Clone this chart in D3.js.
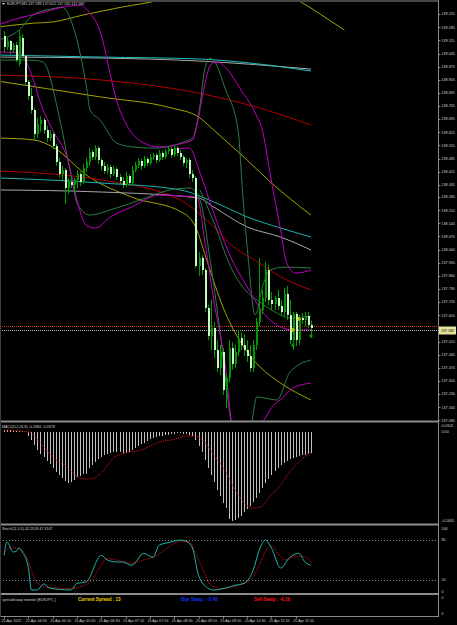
<!DOCTYPE html>
<html>
<head>
<meta charset="utf-8">
<script src="https://cdn.jsdelivr.net/npm/d3@7"></script>
<style>
  body { margin: 0; background: #000; }
  svg { display: block; }
  text { font-family: "Liberation Sans", Arial, sans-serif; }
</style>
</head>
<body>
<svg id="chart" width="457" height="625"></svg>
<script>
"use strict";

// ---- chart data (EURJPY M5) ----
const symbolTitle = "EURJPY,M5  137.599 137.622 137.530 137.582";
const barOpen = [139.138,139.080,139.112,139.064,139.090,138.989,139.128,139.032,138.893,138.819,
  138.744,138.616,138.669,138.691,138.637,138.595,138.616,138.552,138.467,138.403,
  138.424,138.328,138.360,138.344,138.371,138.403,138.360,138.435,138.467,138.520,
  138.493,138.541,138.477,138.446,138.419,138.440,138.403,138.430,138.387,138.366,
  138.344,138.392,138.355,138.424,138.451,138.472,138.446,138.483,138.461,138.493,
  138.504,138.477,138.515,138.493,138.525,138.536,138.504,138.541,138.515,138.493,
  138.461,138.477,138.403,138.382,137.913,137.955,137.891,137.689,137.540,137.582,
  137.465,137.369,137.454,137.252,137.316,137.476,137.391,137.454,137.529,137.492,
  137.465,137.433,137.369,137.492,137.614,137.678,137.742,137.891,137.732,137.710,
  137.742,137.700,137.668,137.764,137.652,137.518,137.657,137.518,137.636,137.625,
  137.646,137.599];
const barHigh = [139.165,139.128,139.117,139.101,139.106,139.170,139.149,139.042,138.904,138.861,
  138.755,138.701,138.712,138.701,138.659,138.637,138.627,138.563,138.488,138.446,
  138.435,138.382,138.392,138.382,138.424,138.414,138.456,138.488,138.541,138.531,
  138.557,138.552,138.488,138.467,138.456,138.451,138.446,138.440,138.403,138.387,
  138.414,138.403,138.446,138.467,138.488,138.483,138.499,138.493,138.509,138.515,
  138.515,138.531,138.525,138.536,138.552,138.547,138.557,138.552,138.531,138.504,
  138.488,138.488,138.424,138.392,137.987,137.971,137.902,137.705,137.732,137.614,
  137.518,137.492,137.476,137.332,137.518,137.508,137.492,137.572,137.561,137.550,
  137.518,137.492,137.518,137.636,137.955,137.785,137.934,137.918,137.774,137.753,
  137.785,137.732,137.796,137.806,137.732,137.668,137.668,137.652,137.662,137.668,
  137.668,137.622];
const barLow = [139.053,139.064,139.042,139.048,139.000,138.978,139.021,138.877,138.797,138.723,
  138.584,138.595,138.627,138.616,138.573,138.579,138.536,138.446,138.382,138.371,
  138.243,138.296,138.328,138.307,138.328,138.339,138.350,138.414,138.446,138.477,
  138.477,138.456,138.424,138.403,138.403,138.382,138.392,138.371,138.350,138.328,
  138.334,138.339,138.344,138.414,138.435,138.424,138.435,138.446,138.451,138.477,
  138.461,138.467,138.477,138.483,138.509,138.488,138.493,138.499,138.477,138.446,
  138.435,138.382,138.360,137.902,137.860,137.865,137.668,137.518,137.465,137.423,
  137.348,137.332,137.225,137.156,137.295,137.359,137.369,137.433,137.465,137.433,
  137.401,137.348,137.348,137.465,137.593,137.657,137.721,137.705,137.678,137.678,
  137.678,137.646,137.646,137.625,137.497,137.465,137.486,137.492,137.604,137.593,
  137.582,137.530];
const barClose = [139.080,139.112,139.064,139.090,139.010,139.138,139.032,138.893,138.819,138.744,
  138.616,138.669,138.691,138.637,138.595,138.616,138.552,138.467,138.403,138.424,
  138.328,138.360,138.344,138.371,138.403,138.360,138.435,138.467,138.520,138.493,
  138.541,138.477,138.446,138.419,138.440,138.403,138.430,138.387,138.366,138.344,
  138.392,138.355,138.424,138.451,138.472,138.446,138.483,138.461,138.493,138.504,
  138.477,138.515,138.493,138.525,138.536,138.504,138.541,138.515,138.493,138.461,
  138.477,138.403,138.382,137.913,137.955,137.891,137.689,137.540,137.582,137.465,
  137.369,137.454,137.252,137.316,137.476,137.391,137.454,137.529,137.492,137.465,
  137.433,137.369,137.492,137.614,137.678,137.742,137.891,137.732,137.710,137.742,
  137.700,137.668,137.764,137.652,137.518,137.657,137.518,137.636,137.625,137.646,
  137.598,137.582];
const askPrice = 137.595;
const bidPrice = 137.582;

// indicator lines on the price chart: [bar, price]
const cyanUpper = [[-2,139.037],[32,139.026],[64,139.016],[81,138.994],[101,138.952]];
const grayUpper = [[-2,139.026],[32,139.021],[64,139.005],[101,138.962]];
const redUpper = [[-2,138.930],[32,138.904],[64,138.834],[84,138.755],[101,138.664]];
const oliveUpper = [[-2,139.186],[10,139.207],[16,139.213],[26,139.250],[39,139.293],[51,139.330],[56,139.357]];
const oliveRight = [[95,139.345],[101,139.287],[107,139.223],[112,139.170]];
const oliveMiddle = [[-2,138.898],[32,138.813],[55,138.755],[64,138.707],[69,138.637],[80,138.477],[88,138.355],[101,138.184]];
const oliveLower = [[-2,138.595],[10,138.584],[16,138.547],[28,138.387],[42,138.280],[59,138.195],[63,138.121],[67,137.929],[72,137.695],[78,137.503],[83,137.396],[91,137.289],[101,137.199]];
const grayLower = [[-2,138.318],[32,138.307],[64,138.275],[69,138.227],[80,138.121],[91,138.067],[101,137.998]];
const cyanLower = [[-2,138.382],[32,138.355],[58,138.318],[69,138.254],[80,138.174],[91,138.115],[101,138.067]];
const redLower = [[-2,138.419],[32,138.371],[58,138.264],[69,138.121],[74,138.036],[84,137.929],[91,137.855],[101,137.785]];
const magentaUpper = [[-2,139.197],[5,139.234],[12,139.261],[18,139.287],[25,139.303],[28,139.266],[32,139.144],[35,138.930],
  [37,138.797],[40,138.675],[46,138.568],[51,138.547],[59,138.568],[62,138.584],[63.5,138.664],[66,138.877],[68,138.984],
  [70,139.000],[73,138.968],[78,138.850],[83,138.717],[85,138.637],[87.5,138.408],[91,138.105],[93,137.929],[96,137.875],[101,137.891]];
const magentaLower = [[-2,139.053],[5,139.048],[10,138.888],[12,138.781],[16,138.637],[21,138.477],[24,138.264],[27,138.131],
  [30,138.115],[35,138.174],[42,138.227],[51,138.291],[58,138.286],[63.5,138.280],[66,138.051],[69,137.732],[73,137.359],
  [75,137.066],[78,136.959],[83,137.039],[86,137.103],[87.5,137.145],[92,137.215],[95,137.263],[101,137.289]];
const magentaMid = [[55,138.531],[61,138.541],[64.5,138.408],[69,138.195],[74,137.982],[80,137.801],[86.5,137.641],[91,137.588],[95,137.572],[101,137.572]];
const greenUpper = [[-2,139.117],[5,139.170],[9.5,139.250],[17,139.287],[19,139.293],[22,139.223],[25,139.048],[27.3,138.850],
  [28.3,138.744],[31.6,138.691],[37,138.568],[42.4,138.547],[49,138.541],[53.6,138.547],[59,138.573],[62,138.595],[64.5,138.771],
  [66,138.957],[67.8,139.021],[69.4,139.000],[72.7,138.861],[77,138.637],[78.6,138.280],[80.3,137.961],[82.6,137.652],
  [85.2,137.812],[87.5,137.891],[92.4,137.907],[101,137.902]];
const greenLower = [[-2,139.010],[8.6,139.010],[12.8,139.000],[18.4,138.691],[21.7,138.424],[24.3,138.238],[28.3,138.184],
  [34.9,138.211],[44.7,138.264],[54.6,138.318],[61.2,138.328],[64.5,138.264],[67.8,137.945],[71,137.572],[73.7,137.199],
  [76,136.986],[80.9,137.039],[83.2,137.215],[89.8,137.199],[94.1,137.348],[101,137.412]];
const greenMid = [[64.5,138.318],[69.4,138.131],[74.3,137.918],[79.3,137.785],[84.2,137.721],[89.1,137.668],[94.1,137.636],[101,137.646]];
const markerCross = [[95,137.572],[97,137.630]];
const markerArrow = [[95,137.490],[101,137.540]];

const priceTicks = [139.255,139.185,139.115,139.045,138.975,138.905,138.835,138.765,138.695,138.625,
  138.555,138.485,138.415,138.345,138.280,138.210,138.140,138.070,138.000,137.930,
  137.860,137.790,137.720,137.650,137.510,137.440,137.370,137.300,137.230,137.160,137.090];

// MACD(12,26,9): histogram per bar and signal line
const macdTitle = "MACD(12,26,9) -0.0394 -0.0378";
const macdHist = [0.0037,0.0037,0.0037,0.0019,0.0019,0.0019,0.0019,0.0000,-0.0075,-0.0150,
  -0.0243,-0.0337,-0.0412,-0.0468,-0.0543,-0.0599,-0.0674,-0.0748,-0.0805,-0.0861,
  -0.0917,-0.0954,-0.0936,-0.0898,-0.0842,-0.0823,-0.0786,-0.0786,-0.0674,-0.0617,
  -0.0561,-0.0505,-0.0468,-0.0430,-0.0412,-0.0393,-0.0374,-0.0374,-0.0374,-0.0393,
  -0.0393,-0.0374,-0.0337,-0.0299,-0.0262,-0.0225,-0.0206,-0.0168,-0.0131,-0.0112,
  -0.0094,-0.0075,-0.0075,-0.0056,-0.0056,-0.0037,-0.0037,-0.0019,-0.0019,-0.0037,
  -0.0037,-0.0056,-0.0075,-0.0150,-0.0262,-0.0374,-0.0524,-0.0674,-0.0805,-0.0936,
  -0.1085,-0.1197,-0.1328,-0.1422,-0.1628,-0.1665,-0.1646,-0.1609,-0.1572,-0.1497,
  -0.1441,-0.1385,-0.1310,-0.1235,-0.1141,-0.1048,-0.0954,-0.0879,-0.0805,-0.0730,
  -0.0674,-0.0617,-0.0580,-0.0543,-0.0505,-0.0486,-0.0468,-0.0449,-0.0430,-0.0430,
  -0.0412,-0.0394];
const macdSignal = [[0,0.0037],[8,0.0000],[12,-0.0206],[16,-0.0468],[21,-0.0674],[25,-0.0861],[28,-0.0879],
  [32,-0.0767],[36,-0.0486],[40,-0.0393],[45,-0.0337],[49,-0.0243],[51,-0.0187],[55,-0.0150],[60,-0.0075],
  [63,-0.0075],[66,-0.0187],[69,-0.0430],[73,-0.0748],[76,-0.1085],[79,-0.1328],[82,-0.1422],[85,-0.1385],
  [87,-0.1235],[91,-0.0992],[94,-0.0748],[97,-0.0561],[101,-0.0378]];
const macdTicks = [["0.0324", 0.0118], ["0.00", 0], ["-0.1665", -0.1665]];

// Stochastic(11,3,3)
const stochTitle = "Stoch(11,3,3) 42.2518 47.3147";
const stochMain = [[0,57],[1,77],[3,62],[4,63],[5,68],[6,62],[8,39],[9,5],[11,5],[13,14],[15,8],[18,6],[22,5],
  [24,15],[27,17],[32,57],[34,50],[37,47],[39,47],[42,42],[46,60],[49,54],[51,72],[55,77],[58,80],[60,78],
  [62,68],[64,27],[67,8],[69,5],[73,8],[76,12],[79,15],[82,35],[84,65],[86,80],[88,68],[91,38],[94,54],
  [97,60],[99,47],[101,42.25]];
const stochSignal = [[0,60],[2,68],[5,67],[7,58],[9,35],[11,15],[14,9],[18,8],[22,7],[25,10],[28,16],[31,35],
  [34,52],[38,49],[42,45],[46,50],[49,54],[52,62],[55,72],[58,78],[61,77],[63,60],[66,30],[68,12],[72,7],
  [77,12],[81,20],[84,42],[86,63],[88,72],[90,60],[93,50],[96,56],[99,55],[101,47.31]];
const stochLevels = [80, 20];
const stochTicks = [100, 80, 20, 0];

// spread / swap monitor
const monitorTitle = "spread/swap monitor [EURJPY,,]";
const spreadText = "Current Spread :  13";
const buySwapText = "Buy Swap :  -3.40";
const sellSwapText = "Sell Swap :  -6.10";

// time axis
const timeLabels = ["25 Apr 2022","25 Apr 04:30","25 Apr 05:10","25 Apr 05:50","25 Apr 06:30","25 Apr 07:10",
  "25 Apr 07:50","25 Apr 08:30","25 Apr 09:10","25 Apr 09:50","25 Apr 10:30","25 Apr 11:10","25 Apr 11:50"];
const timeBars = [0,8,16,24,32,40,48,56,64,72,80,88,96];

// ---- layout ----
const W = 457, H = 625;
const axisX = 438.5;
const fontSize = 3.7;
const frameColor = "#8c8c8c";
const textColor = "#d0d0d0";

const svg = d3.select("#chart");
svg.append("rect").attr("width", W).attr("height", H).attr("fill", "#000");

const x = d3.scaleLinear().domain([0, 101]).range([4, 311]);
const y = d3.scaleLinear().domain([137.090, 139.255]).range([420.4, 14.1]);
const yMacd = d3.scaleLinear().domain([-0.1665, 0]).range([521, 432]);
const yStoch = d3.scaleLinear().domain([0, 100]).range([593.3, 526.7]);

const defs = svg.append("defs");
defs.append("clipPath").attr("id", "clipMain")
  .append("rect").attr("x", 0).attr("y", 2).attr("width", axisX).attr("height", 419);
defs.append("clipPath").attr("id", "clipMacd")
  .append("rect").attr("x", 0).attr("y", 423).attr("width", axisX).attr("height", 100);
defs.append("clipPath").attr("id", "clipStoch")
  .append("rect").attr("x", 0).attr("y", 526).attr("width", axisX).attr("height", 66);

// ---- main price panel ----
const main = svg.append("g").attr("clip-path", "url(#clipMain)");

const priceLine = d3.line()
  .x(d => x(d[0])).y(d => y(d[1]))
  .curve(d3.curveMonotoneX);

const overlays = [
  { pts: oliveUpper, color: "#a3a300" },
  { pts: oliveRight, color: "#a3a300" },
  { pts: redUpper, color: "#b00000" },
  { pts: grayUpper, color: "#a8a8a8" },
  { pts: cyanUpper, color: "#20c0c0" },
  { pts: oliveMiddle, color: "#a3a300" },
  { pts: oliveLower, color: "#a3a300" },
  { pts: redLower, color: "#b00000" },
  { pts: grayLower, color: "#a8a8a8" },
  { pts: cyanLower, color: "#20b0b0" },
  { pts: greenUpper, color: "#2e7a44" },
  { pts: greenLower, color: "#2e7a44" },
  { pts: greenMid, color: "#2e7a44" },
  { pts: magentaUpper, color: "#c000c0" },
  { pts: magentaLower, color: "#c000c0" },
  { pts: magentaMid, color: "#c000c0" }
];

main.selectAll("path.overlay")
  .data(overlays)
  .join("path")
  .attr("class", "overlay")
  .attr("d", d => priceLine(d.pts))
  .attr("fill", "none")
  .attr("stroke", d => d.color)
  .attr("stroke-width", 1);

// ask / bid lines
main.append("line")
  .attr("x1", 0).attr("x2", axisX)
  .attr("y1", Math.round(y(askPrice)) + 0.5).attr("y2", Math.round(y(askPrice)) + 0.5)
  .attr("stroke", "#e03020").attr("stroke-dasharray", "1,1");
main.append("line")
  .attr("x1", 0).attr("x2", axisX)
  .attr("y1", Math.round(y(bidPrice)) + 2.5).attr("y2", Math.round(y(bidPrice)) + 2.5)
  .attr("stroke", "#b0b0b0").attr("stroke-dasharray", "1,1");

// candles
const bars = barOpen.map((o, i) => ({ i, o, h: barHigh[i], l: barLow[i], c: barClose[i] }));
const candle = main.selectAll("g.candle").data(bars).join("g").attr("class", "candle");
candle.append("line")
  .attr("x1", d => Math.round(x(d.i)) + 0.5)
  .attr("x2", d => Math.round(x(d.i)) + 0.5)
  .attr("y1", d => y(d.h))
  .attr("y2", d => y(d.l))
  .attr("stroke", "#00a000")
  .attr("stroke-width", 1);
candle.append("rect")
  .attr("x", d => Math.round(x(d.i)) - 0.5)
  .attr("width", 2)
  .attr("y", d => y(Math.max(d.o, d.c)))
  .attr("height", d => Math.max(1, Math.abs(y(d.o) - y(d.c))))
  .attr("fill", d => d.c >= d.o ? "#009a00" : "#c8f8c8")
  .attr("shape-rendering", "crispEdges");

// trade markers
main.selectAll("path.cross").data(markerCross).join("path")
  .attr("class", "cross")
  .attr("d", d => d3.symbol(d3.symbolCross, 9)())
  .attr("transform", d => `translate(${x(d[0])},${y(d[1])})`)
  .attr("fill", "#e0c000");
main.selectAll("path.arrow").data(markerArrow).join("path")
  .attr("class", "arrow")
  .attr("d", d => d3.symbol(d3.symbolCross, 8)())
  .attr("transform", d => `translate(${x(d[0])},${y(d[1])})`)
  .attr("fill", "#00a000");

// title
svg.append("path")
  .attr("d", "M2,3 L5,3 L3.5,5 Z")
  .attr("fill", "#d0d0d0");
svg.append("text")
  .attr("x", 7).attr("y", 5.2)
  .attr("font-size", fontSize).attr("fill", textColor)
  .text(symbolTitle);

// price axis labels
svg.selectAll("text.ptick").data(priceTicks).join("text")
  .attr("class", "ptick")
  .attr("x", 441.5)
  .attr("y", d => y(d) + 1.3)
  .attr("font-size", fontSize)
  .attr("fill", textColor)
  .text(d => d.toFixed(3));
svg.selectAll("line.ptickmark").data(priceTicks).join("line")
  .attr("class", "ptickmark")
  .attr("x1", axisX).attr("x2", axisX + 2)
  .attr("y1", d => Math.round(y(d)) + 0.5).attr("y2", d => Math.round(y(d)) + 0.5)
  .attr("stroke", frameColor);

// bid price box
const boxY = Math.round(y(bidPrice)) + 2.5;
svg.append("rect")
  .attr("x", 439).attr("y", boxY - 4).attr("width", 17).attr("height", 8)
  .attr("fill", "#e8e39a");
svg.append("text")
  .attr("x", 441).attr("y", boxY + 1.3)
  .attr("font-size", fontSize).attr("fill", "#000")
  .text(bidPrice.toFixed(3));

// ---- MACD panel ----
const macd = svg.append("g").attr("clip-path", "url(#clipMacd)");
macd.selectAll("line.hist").data(macdHist).join("line")
  .attr("class", "hist")
  .attr("x1", (d, i) => Math.round(x(i)) + 0.5)
  .attr("x2", (d, i) => Math.round(x(i)) + 0.5)
  .attr("y1", yMacd(0))
  .attr("y2", d => yMacd(d))
  .attr("stroke", "#c0c0c0")
  .attr("stroke-width", 1);
macd.append("path")
  .attr("d", d3.line().x(d => x(d[0])).y(d => yMacd(d[1])).curve(d3.curveMonotoneX)(macdSignal))
  .attr("fill", "none")
  .attr("stroke", "#d01010")
  .attr("stroke-dasharray", "1.2,1")
  .attr("stroke-width", 1);
svg.append("text")
  .attr("x", 2).attr("y", 427.5)
  .attr("font-size", fontSize).attr("fill", textColor)
  .text(macdTitle);
svg.selectAll("text.mtick").data(macdTicks).join("text")
  .attr("class", "mtick")
  .attr("x", 441.5)
  .attr("y", d => yMacd(d[1]) + 1.3)
  .attr("font-size", fontSize)
  .attr("fill", textColor)
  .text(d => d[0]);

// ---- Stochastic panel ----
const stoch = svg.append("g").attr("clip-path", "url(#clipStoch)");
stoch.selectAll("line.level").data(stochLevels).join("line")
  .attr("class", "level")
  .attr("x1", 0).attr("x2", axisX)
  .attr("y1", d => Math.round(yStoch(d)) + 0.5)
  .attr("y2", d => Math.round(yStoch(d)) + 0.5)
  .attr("stroke", "#8a8a8a")
  .attr("stroke-dasharray", "1,2");
const stochLine = d3.line().x(d => x(d[0])).y(d => yStoch(d[1])).curve(d3.curveMonotoneX);
stoch.append("path")
  .attr("d", stochLine(stochSignal))
  .attr("fill", "none")
  .attr("stroke", "#d01010")
  .attr("stroke-dasharray", "1.2,1");
stoch.append("path")
  .attr("d", stochLine(stochMain))
  .attr("fill", "none")
  .attr("stroke", "#20b2aa")
  .attr("stroke-width", 1);
svg.append("text")
  .attr("x", 2).attr("y", 530)
  .attr("font-size", fontSize).attr("fill", textColor)
  .text(stochTitle);
svg.selectAll("text.stick").data(stochTicks).join("text")
  .attr("class", "stick")
  .attr("x", 441.5)
  .attr("y", d => yStoch(d) + (d === 100 ? 3 : d === 0 ? -0.5 : 1.3))
  .attr("font-size", fontSize)
  .attr("fill", textColor)
  .text(d => d);

// ---- spread / swap monitor panel ----
svg.append("text")
  .attr("x", 2).attr("y", 600.5)
  .attr("font-size", fontSize).attr("fill", textColor)
  .text(monitorTitle);
svg.append("text")
  .attr("x", 78).attr("y", 601)
  .attr("font-size", 4.6).attr("font-weight", "bold").attr("fill", "#f0d000")
  .text(spreadText);
svg.append("text")
  .attr("x", 181).attr("y", 601)
  .attr("font-size", 4.6).attr("font-weight", "bold").attr("fill", "#1030ff")
  .text(buySwapText);
svg.append("text")
  .attr("x", 254).attr("y", 601)
  .attr("font-size", 4.6).attr("font-weight", "bold").attr("fill", "#ff1010")
  .text(sellSwapText);
svg.append("text")
  .attr("x", 441.5).attr("y", 598.5)
  .attr("font-size", fontSize).attr("fill", textColor).text("0");
svg.append("text")
  .attr("x", 441.5).attr("y", 614.5)
  .attr("font-size", fontSize).attr("fill", textColor).text("0");

// ---- frame / separators ----
const separators = [421.5, 524.5, 594];
svg.append("line").attr("x1", 0).attr("x2", axisX).attr("y1", 1).attr("y2", 1)
  .attr("stroke", frameColor).attr("stroke-width", 1);
svg.selectAll("line.sep").data(separators).join("line")
  .attr("class", "sep")
  .attr("x1", 0).attr("x2", axisX)
  .attr("y1", d => d).attr("y2", d => d)
  .attr("stroke", frameColor).attr("stroke-width", 2);
svg.append("line").attr("x1", 0).attr("x2", axisX).attr("y1", 616.5).attr("y2", 616.5)
  .attr("stroke", frameColor).attr("stroke-width", 1);
svg.append("line").attr("x1", axisX).attr("x2", axisX).attr("y1", 0.5).attr("y2", 617)
  .attr("stroke", frameColor).attr("stroke-width", 1);
svg.append("line").attr("x1", 0.5).attr("x2", 0.5).attr("y1", 0.5).attr("y2", 617)
  .attr("stroke", "#404040").attr("stroke-width", 1);

// ---- time axis ----
svg.selectAll("line.ttick").data(timeBars).join("line")
  .attr("class", "ttick")
  .attr("x1", d => Math.round(x(d)) + 0.5).attr("x2", d => Math.round(x(d)) + 0.5)
  .attr("y1", 617).attr("y2", 618.5)
  .attr("stroke", frameColor);
svg.selectAll("text.ttext").data(timeLabels).join("text")
  .attr("class", "ttext")
  .attr("x", (d, i) => x(timeBars[i]) - 2.5)
  .attr("y", 622)
  .attr("font-size", fontSize)
  .attr("fill", textColor)
  .text(d => d);
</script>
</body>
</html>
